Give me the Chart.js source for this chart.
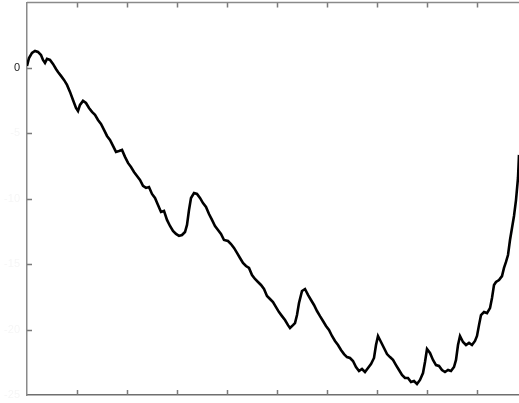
<!DOCTYPE html>
<html>
<head>
<meta charset="utf-8">
<script src="https://cdn.jsdelivr.net/npm/chart.js@4/dist/chart.umd.min.js"></script>
<style>
  html, body { margin: 0; padding: 0; background: #fff; }
  #wrap { width: 519px; height: 403px; position: relative; }
</style>
</head>
<body>
<div id="wrap"><canvas id="c"></canvas></div>
<script>
// Series
const xValues = [0,2,5,8,11,14,16,18,20,23,26,29,31,34,37,40,43,46,49,51,53,56,59,62,65,68,71,74,77,80,83,86,89,92,95,98,101,104,107,110,113,116,119,122,125,128,131,134,137,140,143,146,149,152,155,158,160,162,164,167,170,173,176,179,182,185,188,191,194,197,201,204,207,210,213,216,219,222,225,228,231,234,237,240,243,246,249,252,255,258,261,263,266,268,270,272,275,278,281,284,287,290,293,296,299,302,305,308,311,314,317,320,323,326,329,332,335,338,341,344,347,349,351,354,357,360,363,366,369,372,375,378,381,384,387,390,393,396,398,400,403,406,409,412,415,418,421,424,427,429,431,433,436,439,442,445,448,450,452,454,457,460,463,465,467,469,472,475,477,479,481,483,485,487,489,491,492];
const yValues = [0.15,0.76,1.15,1.30,1.22,0.99,0.61,0.38,0.69,0.61,0.31,-0.08,-0.31,-0.61,-0.92,-1.30,-1.83,-2.45,-3.06,-3.29,-2.83,-2.52,-2.68,-3.06,-3.36,-3.59,-3.98,-4.28,-4.74,-5.20,-5.50,-5.96,-6.42,-6.35,-6.27,-6.80,-7.26,-7.57,-7.95,-8.26,-8.56,-9.02,-9.17,-9.10,-9.63,-9.94,-10.47,-11.01,-10.93,-11.62,-12.08,-12.46,-12.69,-12.84,-12.77,-12.54,-12.00,-10.86,-9.94,-9.56,-9.63,-9.94,-10.33,-10.63,-11.17,-11.62,-12.08,-12.39,-12.69,-13.15,-13.23,-13.46,-13.76,-14.14,-14.53,-14.91,-15.14,-15.29,-15.83,-16.13,-16.36,-16.59,-16.90,-17.43,-17.66,-17.89,-18.28,-18.66,-18.97,-19.27,-19.66,-19.88,-19.66,-19.50,-18.89,-17.97,-17.05,-16.90,-17.35,-17.74,-18.12,-18.58,-18.97,-19.34,-19.72,-20.03,-20.49,-20.87,-21.18,-21.56,-21.87,-22.10,-22.17,-22.40,-22.86,-23.17,-23.01,-23.24,-22.94,-22.63,-22.17,-21.18,-20.49,-20.95,-21.41,-21.87,-22.10,-22.32,-22.71,-23.09,-23.47,-23.70,-23.70,-24.01,-23.93,-24.16,-23.85,-23.32,-22.48,-21.48,-21.79,-22.32,-22.71,-22.78,-23.09,-23.24,-23.09,-23.17,-22.86,-22.32,-21.18,-20.49,-20.95,-21.18,-21.02,-21.18,-20.87,-20.49,-19.66,-18.89,-18.66,-18.74,-18.36,-17.58,-16.59,-16.36,-16.21,-15.91,-15.29,-14.83,-14.30,-13.15,-12.23,-11.32,-10.10,-8.41,-6.65];
const yTicks = [5, 0, -5, -10, -15, -20, -25];
const xTicks = [0, 50, 100, 150, 200, 250, 300, 350, 400, 450];

const points = xValues.map((x, i) => ({ x: x, y: yValues[i] }));

// Draw short inward tick marks on the box edges
const inwardTicks = {
  id: 'inwardTicks',
  afterDraw(chart) {
    const ctx = chart.ctx, a = chart.chartArea;
    const xs = chart.scales.x, ys = chart.scales.y;
    ctx.save();
    ctx.strokeStyle = '#7a7a7a';
    ctx.lineWidth = 1.5;
    ctx.beginPath();
    xTicks.forEach(v => {
      if (v === 0) return;
      const px = Math.round(xs.getPixelForValue(v)) + 0.5;
      ctx.moveTo(px, a.bottom); ctx.lineTo(px, a.bottom - 5);
      ctx.moveTo(px, a.top); ctx.lineTo(px, a.top + 5);
    });
    yTicks.forEach(v => {
      if (v === 5 || v === -25) return;
      const py = Math.round(ys.getPixelForValue(v)) + 0.5;
      ctx.moveTo(a.left, py); ctx.lineTo(a.left + 5, py);
    });
    ctx.stroke();
    // top border line
    ctx.beginPath();
    ctx.strokeStyle = '#8a8a8a';
    ctx.moveTo(a.left, a.top); ctx.lineTo(a.right, a.top);
    ctx.stroke();
    ctx.restore();
  }
};

new Chart(document.getElementById('c'), {
  type: 'line',
  data: {
    datasets: [{
      data: points,
      borderColor: '#000',
      borderWidth: 2.6,
      pointRadius: 0,
      tension: 0,
      fill: false
    }]
  },
  options: {
    responsive: true,
    maintainAspectRatio: false,
    animation: false,
    layout: { padding: { top: 2.5, right: 0, bottom: 0, left: 0 } },
    plugins: { legend: { display: false }, tooltip: { enabled: false } },
    scales: {
      x: {
        type: 'linear',
        min: 0, max: 492,
        afterFit(s) { s.height = 8; s.paddingLeft = 0; s.paddingRight = 0; },
        afterBuildTicks(s) { s.ticks = xTicks.map(v => ({ value: v })); },
        ticks: { display: false },
        grid: { display: false, drawTicks: false },
        border: { display: true, color: '#6f6f6f', width: 1.5 }
      },
      y: {
        type: 'linear',
        min: -25, max: 5,
        afterFit(s) { s.width = 27; s.paddingTop = 0; s.paddingBottom = 0; },
        afterBuildTicks(s) { s.ticks = yTicks.map(v => ({ value: v })); },
        ticks: {
          padding: 7,
          font: { family: 'Liberation Sans, Arial, sans-serif', size: 11 },
          color: (c) => (c.tick && c.tick.value === 0) ? '#222' : '#f6f6f6',
          callback: (v) => (v === 5 ? '' : String(v))
        },
        grid: { display: false, drawTicks: false },
        border: { display: true, color: '#8a8a8a', width: 1.5 }
      }
    }
  },
  plugins: [inwardTicks]
});
</script>
</body>
</html>
